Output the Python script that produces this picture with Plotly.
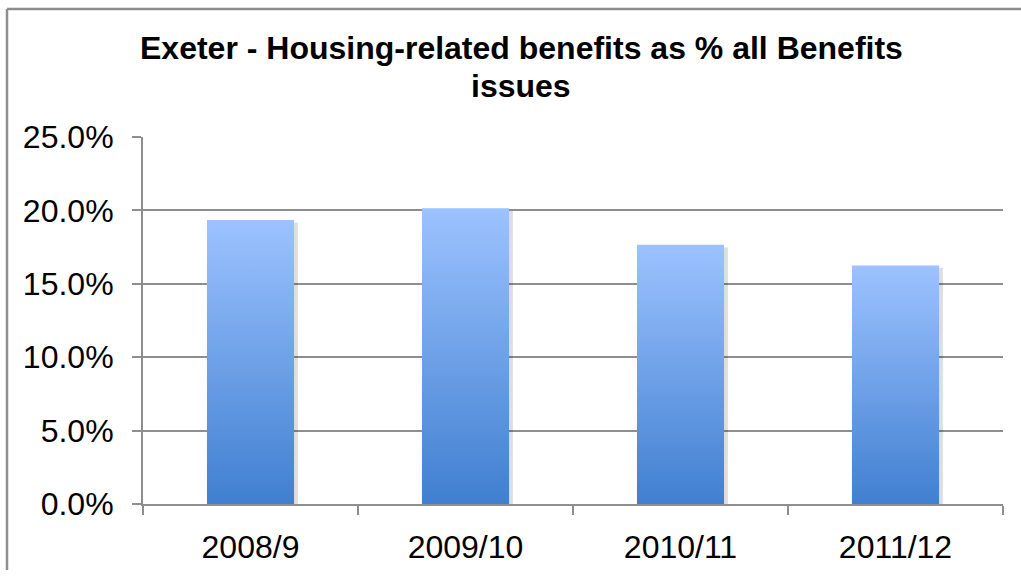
import plotly.graph_objects as go

# Housing-related benefits as a share of all benefits issues, Exeter
years = ["2008/9", "2009/10", "2010/11", "2011/12"]
share_pct = [19.34, 20.14, 17.66, 16.25]

y_ticks = [0, 5, 10, 15, 20, 25]
title_lines = ["Exeter - Housing-related benefits as % all Benefits", "issues"]

BAR_HALF = 0.2025          # half of bar width, in category units
TOP_COLOR = "#9CC2FF"
BOTTOM_COLOR = "#3E7ECF"
GRID = "#8E8E8E"
FONT = "Liberation Sans, Arial, sans-serif"

# plot area in pixels: left 143, right 1003, 0% at 510, 25% at 137
PX_L, PX_R, PX_B, PX_T = 143, 1003, 510, 137


def px_x(px):
    return (px - PX_L) / (PX_R - PX_L)


def px_y(px):
    return (PX_B - px) / (PX_B - PX_T)


fig = go.Figure()

# soft drop shadow behind each bar (offset slightly right/down)
for i, v in enumerate(share_pct):
    dx, dy = 0.018, 0.18
    xs = [i - BAR_HALF + dx, i + BAR_HALF + dx, i + BAR_HALF + dx, i - BAR_HALF + dx, i - BAR_HALF + dx]
    ys = [-dy, -dy, v - dy, v - dy, -dy]
    fig.add_trace(go.Scatter(
        x=xs, y=ys, mode="lines", fill="toself",
        line=dict(width=0), fillcolor="rgba(0,0,0,0.13)",
        hoverinfo="skip", showlegend=False,
    ))

# bars with a vertical gradient, dark at the base and light at the top
for i, v in enumerate(share_pct):
    xs = [i - BAR_HALF, i + BAR_HALF, i + BAR_HALF, i - BAR_HALF, i - BAR_HALF]
    ys = [0, 0, v, v, 0]
    fig.add_trace(go.Scatter(
        x=xs, y=ys, mode="lines", fill="toself",
        line=dict(width=0),
        fillgradient=dict(
            type="vertical",
            colorscale=[[0, BOTTOM_COLOR], [1, TOP_COLOR]],
            start=0, stop=v,
        ),
        name=years[i], showlegend=False,
        hovertemplate=f"{years[i]}: {v:.1f}%<extra></extra>",
    ))

title_annotations = [
    dict(
        text=f"<b>{line}</b>",
        font=dict(family=FONT, size=32, color="black"),
        xref="paper", yref="paper",
        x=px_x(521), y=px_y(cy),
        xanchor="center", yanchor="middle", showarrow=False,
    )
    for line, cy in zip(title_lines, [47, 85])
]

# chart frame: only the left and top edges fall inside the canvas
frame = [
    dict(type="line", xref="paper", yref="paper",
         x0=px_x(7), x1=px_x(7), y0=px_y(577), y1=px_y(7),
         line=dict(color=GRID, width=2.5)),
    dict(type="line", xref="paper", yref="paper",
         x0=px_x(7), x1=px_x(1021), y0=px_y(7), y1=px_y(7),
         line=dict(color=GRID, width=2.5)),
]

fig.update_layout(
    width=1021, height=577,
    margin=dict(l=PX_L, r=1021 - PX_R, t=PX_T, b=577 - PX_B),
    paper_bgcolor="white", plot_bgcolor="white",
    font=dict(family=FONT, color="black", size=32),
    showlegend=False,
    xaxis=dict(
        range=[-0.5, 3.5], tickmode="array",
        tickvals=list(range(len(years))), ticktext=years,
        ticks="", showgrid=False, zeroline=False,
        showline=True, linecolor=GRID, linewidth=2,
        tickfont=dict(family=FONT, size=32),
        minor=dict(tickmode="array", tickvals=[-0.5, 0.5, 1.5, 2.5, 3.5],
                   ticks="outside", ticklen=9, tickwidth=1.5, tickcolor=GRID,
                   showgrid=False),
        ticklabelstandoff=14,
    ),
    yaxis=dict(
        range=[0, 25], tickmode="array", tickvals=y_ticks,
        ticktext=[f"{t:.1f}%" for t in y_ticks],
        showgrid=True, gridcolor=GRID, gridwidth=2,
        zeroline=False,
        showline=True, linecolor=GRID, linewidth=2,
        ticks="outside", ticklen=9, tickwidth=1.5, tickcolor=GRID,
        tickfont=dict(family=FONT, size=32),
        ticklabelstandoff=12,
    ),
    annotations=title_annotations,
    shapes=frame,
)

fig.write_html("out.html")
